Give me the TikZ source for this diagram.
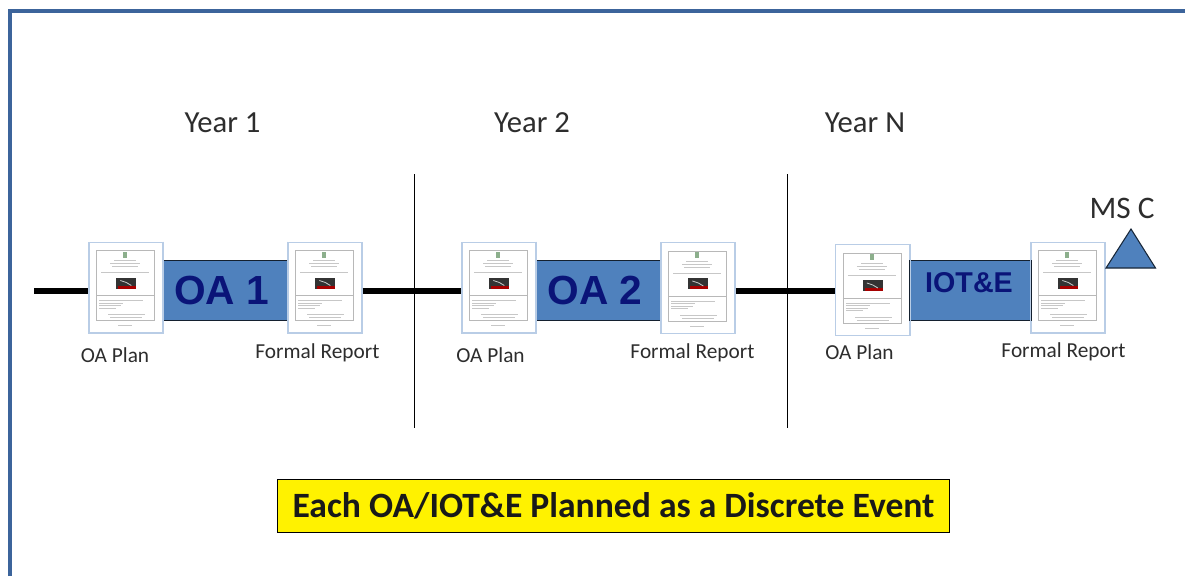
\documentclass[tikz,border=0pt]{standalone}
\usepackage{fontspec}
\setmainfont{Carlito}
\newfontfamily\arialf{Liberation Sans}
\definecolor{barblue}{RGB}{79,129,189}
\definecolor{framecol}{RGB}{60,100,155}
\definecolor{navy}{RGB}{10,20,120}
\definecolor{docedge}{RGB}{185,205,230}
\definecolor{txt}{RGB}{45,45,45}
\tikzset{
  x=0.75pt,y=-0.75pt,
  docbox/.style={draw=docedge,line width=1pt,fill=white,minimum width=55.5pt,minimum height=68pt,inner sep=0pt},
  barbox/.style={draw=black!75!barblue,line width=0.7pt,fill=barblue,minimum height=45pt,inner sep=0pt,text=navy},
  axis/.style={line width=3.8pt,black},
  divider/.style={line width=0.8pt,black},
  yearlabel/.style={font=\fontsize{23}{25}\selectfont,text=txt},
  doclabel/.style={font=\fontsize{16}{18}\selectfont,text=txt},
  docfaint/.style={line width=0.45pt,black!22},
  docframe/.style={line width=0.5pt,black!28},
}
\newcommand{\docnode}[3]{%
  \node[docbox] (#1) at (#2,#3) {};
  \begin{scope}[shift={(#1.north west)}]
    \draw[docframe] (8,9) rectangle (66,79);
    \fill[green!30!black!45] (35,10) rectangle (39,16);
    \draw[docfaint] (26,19)--(48,19) (22,22)--(52,22) (24,25)--(50,25);
    \draw[docfaint] (13,31)--(61,31);
    \fill[black!80] (28,36) rectangle (48,47);
    \fill[red!65!black] (30,44) rectangle (48,47);
    \draw[white!80!black,line width=0.6pt] (32,39)--(38,41)--(43,44);
    \draw[docframe] (8,54)--(66,54);
    \draw[docfaint] (11,59)--(55,59) (11,61.5)--(35,61.5) (11,64)--(33,64) (11,66.5)--(28,66.5);
    \draw[docfaint] (20,73)--(57,73) (22,76)--(54,76);
    \draw[docfaint] (30,84)--(44,84);
  \end{scope}
}
\begin{document}
\begin{tikzpicture}
\useasboundingbox (0,0) rectangle (1185,576);
\fill[white] (0,0) rectangle (1185,576);
\draw[framecol,line width=2.6pt] (10,576)--(10,11)--(1185,11);

% dividers
\coordinate (d1t) at (414.5,174); \coordinate (d1b) at (414.5,428);
\coordinate (d2t) at (787.5,174); \coordinate (d2b) at (787.5,428);
\draw[divider] (d1t)--(d1b);
\draw[divider] (d2t)--(d2b);

% documents
\docnode{p1}{126}{287.5}
\docnode{r1}{325}{287.5}
\docnode{p2}{499}{287.5}
\docnode{r2}{698}{288}
\docnode{p3}{872.5}{290}
\docnode{r3}{1068}{287.5}

% axis
\coordinate (start) at (34,291);
\draw[axis] (start)--(p1.west |- start);
\draw[axis] (r1.east |- start)--(p2.west |- start);
\draw[axis] (r2.east |- start)--(p3.west |- start);

% bars
\node[barbox,minimum width=93.5pt] (oa1) at (225.5,290.5) {};
\node[barbox,minimum width=93.5pt] (oa2) at (598.5,290.5) {};
\node[barbox,minimum width=91.5pt] (iot) at (970,290.5) {};
\node[text=navy,font=\arialf\bfseries\fontsize{30.5}{31}\selectfont,anchor=center] (oa1t) at (221.5,290.5) {OA 1};
\node[text=navy,font=\arialf\bfseries\fontsize{30.5}{31}\selectfont,anchor=center] (oa2t) at (595,290.5) {OA 2};
\node[text=navy,font=\arialf\bfseries\fontsize{21.5}{22}\selectfont,anchor=center] (iott) at (969,282.5) {IOT\&E};

% bring documents' edges over bars
\draw[docedge,line width=1pt] (p1.north east)--(p1.south east) (r1.north west)--(r1.south west)
  (p2.north east)--(p2.south east) (r2.north west)--(r2.south west)
  (p3.north east)--(p3.south east) (r3.north west)--(r3.south west);

% milestone
\coordinate (ta) at (1106,268); \coordinate (tb) at (1155.5,268); \coordinate (tc) at (1131,229);
\draw[fill=barblue,draw=black!70!barblue,line width=0.8pt,line join=miter] (ta)--(tb)--(tc)--cycle;
\node[yearlabel,font=\fontsize{23.5}{25}\selectfont] (msc) at (1122,208) {MS C};

% years
\node[yearlabel] (y1) at (222.5,123) {Year 1};
\node[yearlabel] (y2) at (532,123) {Year 2};
\node[yearlabel] (yn) at (865,123) {Year N};

% labels
\node[doclabel] (l1) at (115,355) {OA Plan};
\node[doclabel] (l2) at (317.5,353) {Formal Report};
\node[doclabel] (l3) at (490.5,355) {OA Plan};
\node[doclabel] (l4) at (692.5,353) {Formal Report};
\node[doclabel] (l5) at (859.5,352) {OA Plan};
\node[doclabel] (l6) at (1063.5,352) {Formal Report};

% banner
\node[draw=black,line width=0.8pt,fill=yellow,minimum width=504pt,minimum height=40pt,inner sep=0pt,
  font=\bfseries\fontsize{26.7}{28}\selectfont,text=black!90] (banner) at (613.5,506) {Each OA/IOT\&E Planned as a Discrete Event};
\end{tikzpicture}
\end{document}
